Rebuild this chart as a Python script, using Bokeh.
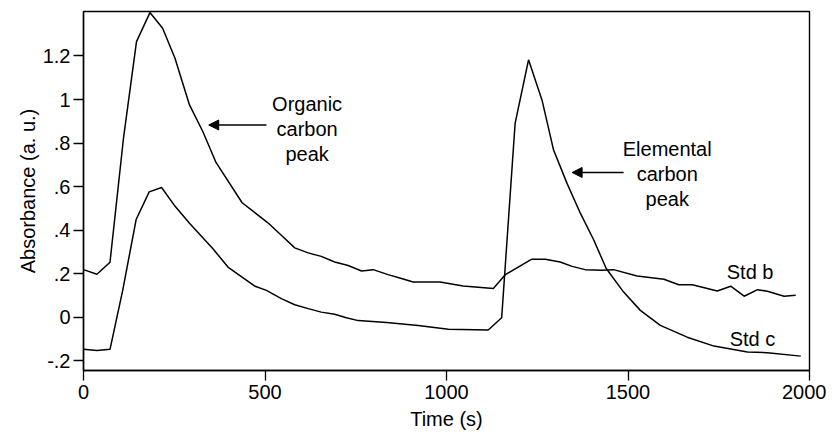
from bokeh.plotting import figure
from bokeh.models import Range1d, FixedTicker, Arrow, NormalHead, Label
from bokeh.embed import file_html
from bokeh.resources import INLINE

# ---- data ----
time_b = [0, 37, 73, 110, 146, 183, 218, 252, 292, 329, 365, 437, 508, 545, 582,
          619, 655, 692, 729, 766, 798, 839, 876, 908, 982, 1046, 1129, 1162,
          1235, 1272, 1313, 1346, 1382, 1428, 1460, 1525, 1599, 1640, 1677,
          1746, 1783, 1820, 1857, 1884, 1930, 1962]
std_b = [0.219, 0.198, 0.253, 0.82, 1.266, 1.399, 1.327, 1.189, 0.975, 0.852,
         0.711, 0.526, 0.434, 0.377, 0.319, 0.296, 0.280, 0.254, 0.238, 0.213,
         0.219, 0.196, 0.178, 0.162, 0.162, 0.144, 0.132, 0.196, 0.267, 0.267,
         0.254, 0.234, 0.219, 0.216, 0.219, 0.190, 0.175, 0.150, 0.150, 0.121,
         0.143, 0.097, 0.127, 0.120, 0.097, 0.101]

time_c = [0, 37, 73, 108, 145, 181, 215, 250, 292, 356, 398, 430, 471, 504, 545,
          582, 619, 655, 692, 724, 757, 835, 922, 1005, 1115, 1152, 1189, 1226,
          1263, 1295, 1332, 1369, 1406, 1440, 1488, 1534, 1589, 1663, 1737,
          1829, 1884, 1976]
std_c = [-0.147, -0.152, -0.147, 0.124, 0.449, 0.576, 0.596, 0.515, 0.432,
         0.316, 0.231, 0.193, 0.144, 0.124, 0.086, 0.058, 0.040, 0.024, 0.014,
         -0.002, -0.015, -0.024, -0.037, -0.055, -0.058, -0.002, 0.890, 1.182,
         0.998, 0.768, 0.615, 0.477, 0.354, 0.224, 0.116, 0.032, -0.037, -0.091,
         -0.132, -0.159, -0.162, -0.178]

x_ticks = [0, 500, 1000, 1500, 2000]
y_ticks = [-0.2, 0.0, 0.2, 0.4, 0.6, 0.8, 1.0, 1.2]
y_tick_labels = ["-.2", "0", ".2", ".4", ".6", ".8", "1", "1.2"]
series_names = ["Std b", "Std c"]
oc_lines = ["Organic", "carbon", "peak"]
ec_lines = ["Elemental", "carbon", "peak"]

FONT = "Liberation Sans"
FS = "20px"

p = figure(width=826, height=432, output_backend="svg", toolbar_location=None,
           x_range=Range1d(0, 2000), y_range=Range1d(-0.244, 1.404),
           min_border_left=83, min_border_right=17, min_border_top=11,
           min_border_bottom=62,
           x_axis_label="Time (s)", y_axis_label="Absorbance (a. u.)")
p.background_fill_color = "white"
p.border_fill_color = "white"
p.grid.visible = False
p.outline_line_color = "black"
p.outline_line_width = 1.4

for ax in p.axis:
    ax.axis_line_color = "black"
    ax.axis_line_width = 1.4
    ax.major_tick_line_color = "black"
    ax.major_tick_line_width = 1.3
    ax.major_tick_in = 0
    ax.major_tick_out = 10
    ax.minor_tick_line_color = None
    ax.major_label_text_font = FONT
    ax.major_label_text_font_size = FS
    ax.major_label_text_color = "black"
    ax.axis_label_text_font = FONT
    ax.axis_label_text_font_size = FS
    ax.axis_label_text_font_style = "normal"
    ax.axis_label_text_color = "black"

p.xaxis.ticker = FixedTicker(ticks=x_ticks)
p.yaxis.ticker = FixedTicker(ticks=y_ticks)
p.yaxis.major_label_overrides = {t: l for t, l in zip(y_ticks, y_tick_labels)}
p.xaxis.major_label_standoff = 4
p.yaxis.major_label_standoff = 3
p.xaxis.axis_label_standoff = 6
p.yaxis.axis_label_standoff = 1

p.line(time_b, std_b, line_color="black", line_width=1.5)
p.line(time_c, std_c, line_color="black", line_width=1.5)

# annotations
for i, t in enumerate(oc_lines):
    p.add_layout(Label(x=616, y=0.979 - 0.115 * i, text=t, text_align="center",
                       text_baseline="alphabetic", text_font=FONT,
                       text_font_size=FS, text_color="black"))
for i, t in enumerate(ec_lines):
    p.add_layout(Label(x=1608, y=0.772 - 0.115 * i, text=t, text_align="center",
                       text_baseline="alphabetic", text_font=FONT,
                       text_font_size=FS, text_color="black"))

p.add_layout(Label(x=1772, y=0.208, text=series_names[0], text_align="left",
                   text_baseline="alphabetic", text_font=FONT,
                   text_font_size=FS, text_color="black"))
p.add_layout(Label(x=1780, y=-0.098, text=series_names[1], text_align="left",
                   text_baseline="alphabetic", text_font=FONT,
                   text_font_size=FS, text_color="black"))

head1 = NormalHead(size=10, fill_color="black", line_color="black")
head2 = NormalHead(size=10, fill_color="black", line_color="black")
p.add_layout(Arrow(end=head1, x_start=504, y_start=0.883, x_end=345, y_end=0.883,
                   line_color="black", line_width=1.3))
p.add_layout(Arrow(end=head2, x_start=1488, y_start=0.665, x_end=1346, y_end=0.665,
                   line_color="black", line_width=1.3))

open("out.html", "w").write(file_html(p, INLINE))
